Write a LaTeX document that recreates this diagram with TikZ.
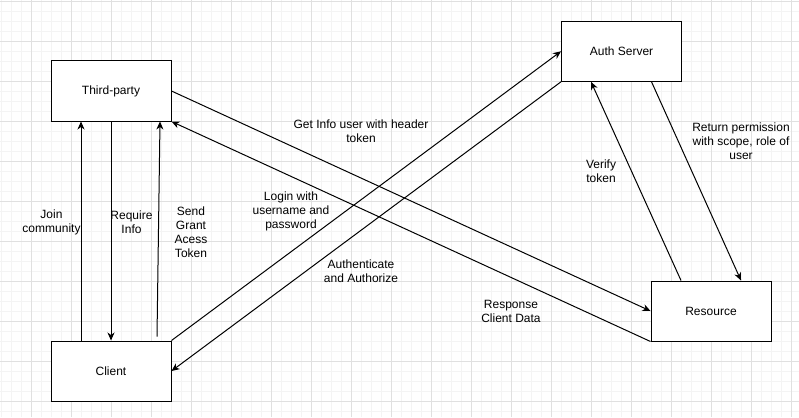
\documentclass[tikz,border=0pt]{standalone}
\usepackage{fontspec}
\setmainfont{Liberation Sans}
\usetikzlibrary{arrows.meta}
\definecolor{gridmajor}{RGB}{224,224,224}
\definecolor{gridminor}{RGB}{244,244,244}

\begin{document}
\begin{tikzpicture}[x=1pt,y=-1pt,font=\fontsize{12}{14}\selectfont]
\useasboundingbox (0,0) rectangle (799,417);
% grid
\foreach \v in {1.5,11.5,...,799} \draw[gridminor,line width=1pt] (\v,0) -- (\v,417);
\foreach \v in {1.5,11.5,...,417} \draw[gridminor,line width=1pt] (0,\v) -- (799,\v);
\foreach \v in {31.5,71.5,...,799} \draw[gridmajor,line width=1pt] (\v,0) -- (\v,417);
\foreach \v in {1.5,41.5,...,417} \draw[gridmajor,line width=1pt] (0,\v) -- (799,\v);
\tikzset{box/.style={draw,line width=1pt,fill=white,minimum width=120pt,minimum height=60pt,inner sep=0pt}}
\tikzset{flow/.style={-{Stealth[length=8pt,width=7pt,inset=2.5pt]},line width=1pt}}
\tikzset{lbl/.style={align=center,inner sep=0pt}}
% boxes
\node[box] (tp) at (111,91) {Third-party};
\node[box] (auth) at (621.5,51.3) {Auth Server};
\node[box] (client) at (111,371) {Client};
\node[box] (res) at (711,311) {Resource};
% client <-> third-party
\draw[flow] ([xshift=-30pt]client.north) -- ([xshift=-30pt]tp.south);
\draw[flow] (tp.south) -- (client.north);
\draw[flow] ([xshift=46pt,yshift=4pt]client.north) -- ([xshift=49pt]tp.south);
\node[lbl] (join) at (51.5,222) {Join\\community};
\node[lbl] (req) at (131.5,222) {Require\\Info};
\node[lbl] (grant) at (191,232) {Send\\Grant\\Acess\\Token};
% third-party <-> resource
\draw[flow] (tp.east) -- (res.west);
\draw[flow] (res.south west) -- (tp.south east);
\node[lbl] (getinfo) at (361,131.5) {Get Info user with header\\token};
\node[lbl] (resp) at (511,311.7) {Response\\Client Data};
% client <-> auth server
\draw[flow] (client.north east) -- (auth.west);
\draw[flow] (auth.south west) -- (client.east);
\node[lbl] (login) at (291,211.7) {Login with\\username and\\password};
\node[lbl] (authn) at (361,271.5) {Authenticate\\and Authorize};
% auth server <-> resource
\draw[flow] ([xshift=-30pt]res.north) -- ([xshift=-30.5pt]auth.south);
\draw[flow] ([xshift=30pt]auth.south) -- ([xshift=30pt]res.north);
\node[lbl] (verify) at (601,171.7) {Verify\\token};
\node[lbl] (perm) at (741,141.7) {Return permission\\with scope, role of\\user};
\end{tikzpicture}
\end{document}
